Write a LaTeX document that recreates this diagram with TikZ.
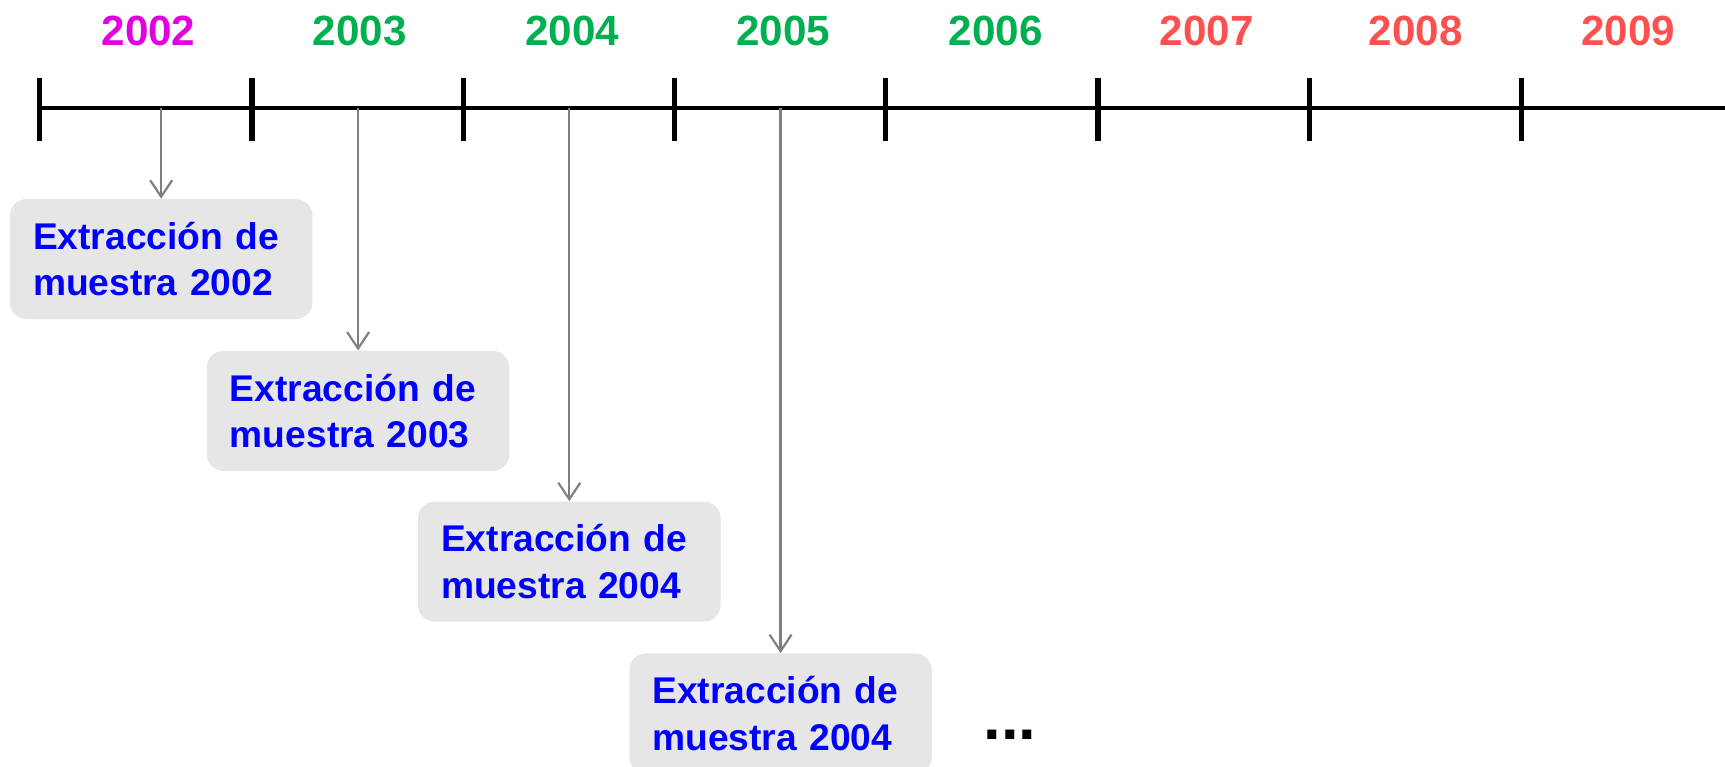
\documentclass[tikz,border=0pt]{standalone}
\usepackage{fontspec}
\setmainfont{Liberation Sans}
\usetikzlibrary{arrows.meta}

\definecolor{yearpink}{RGB}{224,0,224}
\definecolor{yeargreen}{RGB}{0,176,80}
\definecolor{yearred}{RGB}{255,80,80}
\definecolor{sampleblue}{RGB}{0,0,255}
\definecolor{boxgray}{RGB}{230,230,230}
\definecolor{arrowgray}{RGB}{128,128,128}

\begin{document}
\begin{tikzpicture}[x = 0.5pt, y = -0.5pt,
                        tick/.style = {line width = 2.4pt},
                        year/.style = {font = \fontsize{19.2}{22}\selectfont\bfseries},
                        sample/.style = {rectangle, rounded corners = 7.5pt, fill = boxgray, text = sampleblue,
                                         minimum width = 137.5pt, minimum height = 54.5pt, text width = 116.5pt,
                                         inner xsep = 10.5pt, align = left, font = \fontsize{16.9}{21}\selectfont\bfseries},
                        pointer/.style = {draw = arrowgray, line width = 1pt, -{Straight Barb[length = 7.5pt, width = 10pt]}}]
        \path [use as bounding box, clip] (0,0) rectangle (1568,697);

        % time line
        \coordinate (t0) at (36,98);
        \coordinate (tend) at (1570,98);
        \draw [line width = 1.8pt] (t0) -- (tend);
        \draw [tick] (36,71) -- (36,128);
        \draw [tick] (229,71) -- (229,128);
        \draw [tick] (421,71) -- (421,128);
        \draw [tick] (613,71) -- (613,128);
        \draw [tick] (805,71) -- (805,128);
        \draw [tick] (998,71) -- (998,128);
        \draw [tick] (1190,71) -- (1190,128);
        \draw [tick] (1383,71) -- (1383,128);

        \node [year, text = yearpink]  (y2002) at (135,28) {2002};
        \node [year, text = yeargreen] (y2003) at (327,28) {2003};
        \node [year, text = yeargreen] (y2004) at (520,28) {2004};
        \node [year, text = yeargreen] (y2005) at (712,28) {2005};
        \node [year, text = yeargreen] (y2006) at (905,28) {2006};
        \node [year, text = yearred]   (y2007) at (1097,28) {2007};
        \node [year, text = yearred]   (y2008) at (1287,28) {2008};
        \node [year, text = yearred]   (y2009) at (1480,28) {2009};

        % samples
        \node [sample] (m2002) at (146.5,235.5) {Extracción de\\muestra 2002};
        \node [sample] (m2003) at (325.5,373.5) {Extracción de\\muestra 2003};
        \node [sample] (m2004) at (517.5,510.5) {Extracción de\\muestra 2004};
        \node [sample] (m2005) at (709.5,648.5) {Extracción de\\muestra 2004};
        \node [font = \fontsize{28.8}{30}\selectfont\bfseries] (more) at (918,668) {...};

        \draw [pointer] (m2002.north |- t0) -- (m2002.north);
        \draw [pointer] (m2003.north |- t0) -- (m2003.north);
        \draw [pointer] (m2004.north |- t0) -- (m2004.north);
        \draw [pointer] (m2005.north |- t0) -- (m2005.north);
\end{tikzpicture}
\end{document}
